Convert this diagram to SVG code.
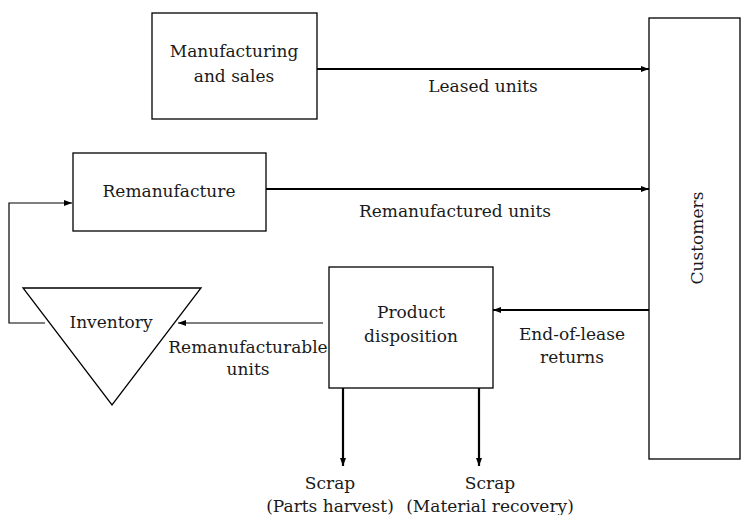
<svg xmlns="http://www.w3.org/2000/svg" width="743" height="515" viewBox="0 0 743 515">
<defs>
<marker id="ah" markerWidth="8" markerHeight="6" refX="8" refY="3" orient="auto" markerUnits="userSpaceOnUse">
<path d="M0,0 L8,3 L0,6 Z" fill="#000"/>
</marker>
<style>
.box{fill:#fff;stroke:#000;stroke-width:1.3}
.t{font-family:'DejaVu Serif',serif;font-size:17px;fill:#1a1a1a;text-anchor:middle}
.c{fill:none;stroke:#000;stroke-width:2.2}
.c1{fill:none;stroke:#000;stroke-width:1.2}
</style>
</defs>
<rect width="743" height="515" fill="#fff"/>
<g id="connectors">
<line class="c" x1="316" y1="69" x2="649" y2="69" marker-end="url(#ah)"/>
<line class="c" x1="266" y1="189" x2="649" y2="189" marker-end="url(#ah)"/>
<line class="c" x1="649" y1="310" x2="493" y2="310" marker-end="url(#ah)"/>
<line class="c1" x1="323" y1="323" x2="178" y2="323" marker-end="url(#ah)"/>
<polyline class="c1" points="45,323 9,323 9,203 72,203" marker-end="url(#ah)"/>
<line class="c" x1="343" y1="388" x2="343" y2="466" marker-end="url(#ah)"/>
<line class="c" x1="479" y1="388" x2="479" y2="466" marker-end="url(#ah)"/>
<text class="t" x="483" y="92">Leased units</text>
<text class="t" x="455" y="217">Remanufactured units</text>
<text class="t" x="572" y="340">End-of-lease</text>
<text class="t" x="572" y="363">returns</text>
<text class="t" x="248" y="353">Remanufacturable</text>
<text class="t" x="248" y="375">units</text>
<text class="t" x="330" y="489">Scrap</text>
<text class="t" x="330" y="512">(Parts harvest)</text>
<text class="t" x="490" y="489">Scrap</text>
<text class="t" x="490" y="512">(Material recovery)</text>
</g>
<g id="manufacturing">
<rect class="box" x="152" y="13" width="165" height="106"/>
<text class="t" x="234" y="57">Manufacturing</text>
<text class="t" x="234" y="82">and sales</text>
</g>
<g id="remanufacture">
<rect class="box" x="73" y="153" width="193" height="78"/>
<text class="t" x="169" y="197">Remanufacture</text>
</g>
<g id="customers">
<rect class="box" x="649" y="18" width="91" height="441"/>
<text class="t" transform="translate(703,238) rotate(-90)">Customers</text>
</g>
<g id="disposition">
<rect class="box" x="329" y="267" width="164" height="121"/>
<text class="t" x="411" y="318">Product</text>
<text class="t" x="411" y="342">disposition</text>
</g>
<g id="inventory">
<polygon class="box" points="23,288 201,288 112,405"/>
<text class="t" x="111" y="328">Inventory</text>
</g>
</svg>
